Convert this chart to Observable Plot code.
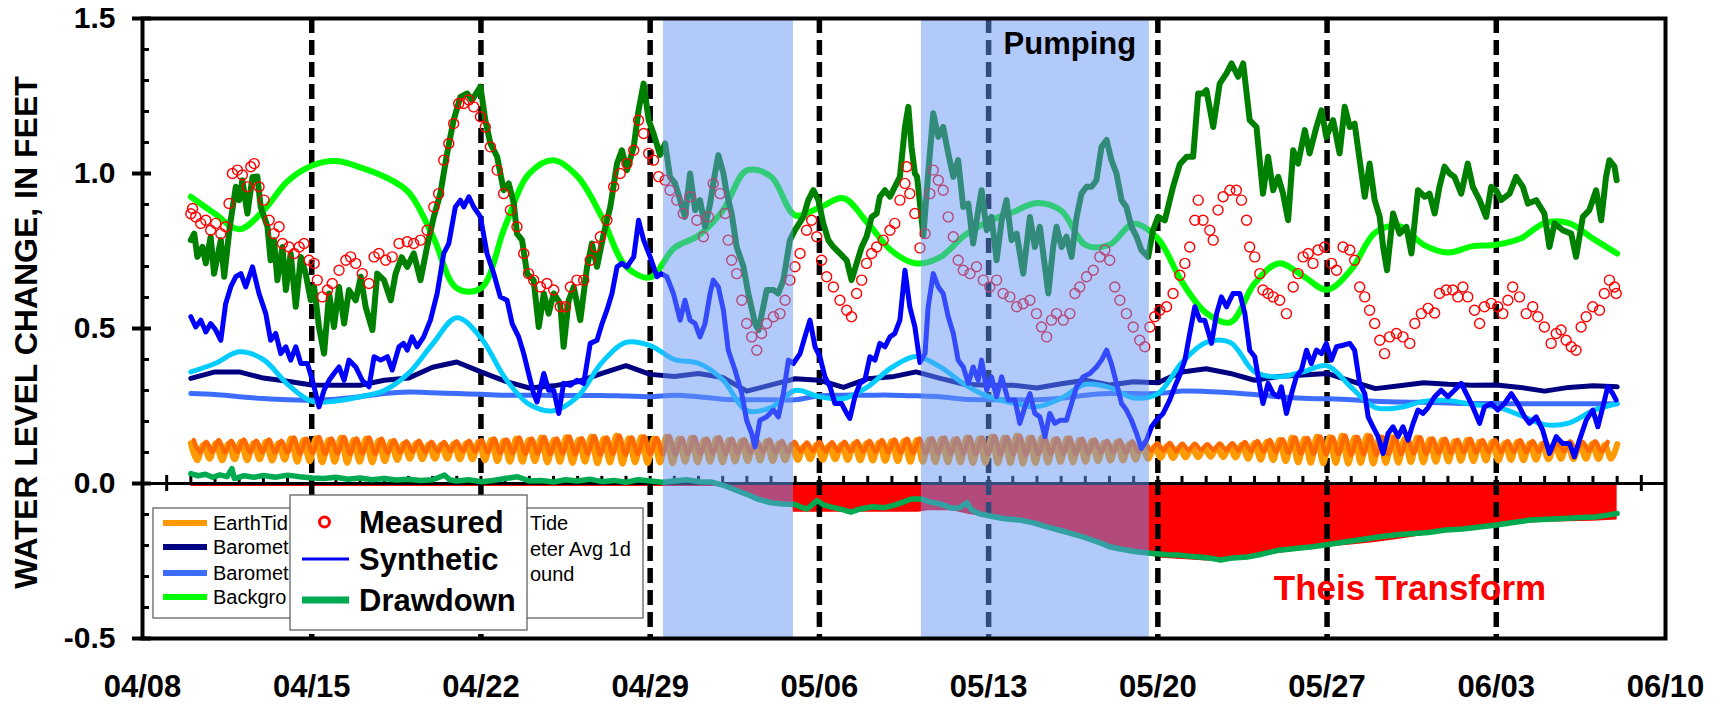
<!DOCTYPE html>
<html><head><meta charset="utf-8">
<script src="https://cdn.jsdelivr.net/npm/d3@7"></script>
<script src="https://cdn.jsdelivr.net/npm/@observablehq/plot@0.6"></script>
<style>
html,body{margin:0;padding:0;background:#fff;overflow:hidden;}
#wrap{position:relative;width:1721px;height:704px;}
#wrap svg{display:block}
#legend{position:absolute;left:0;top:0;pointer-events:none}
</style></head>
<body><div id="wrap"></div>
<script>
// ---------------- DATA ----------------
const xTickLabels = ["04/08","04/15","04/22","04/29","05/06","05/13","05/20","05/27","06/03","06/10"];
const dashedLabels = ["04/15","04/22","04/29","05/06","05/13","05/20","05/27","06/03"];
const yMajor = [-0.5, 0, 0.5, 1.0, 1.5];
const yMinor = [-0.4,-0.3,-0.2,-0.1,0.1,0.2,0.3,0.4,0.6,0.7,0.8,0.9,1.1,1.2,1.3,1.4];
const yTitle = "WATER LEVEL CHANGE, IN FEET";
// days since 04/08
const pumpingDays = [[21.55, 26.93], [32.22, 41.65]];
const smallTickDays = d3.range(2, 62);
const bigTickDays = [1, 62];

// daily smooth series, day 2 (04/10) .. day 61 (06/08)
const background = [0.925,0.87,0.82,0.88,0.975,1.025,1.04,1.02,0.99,0.94,0.80,0.63,0.63,0.83,1.00,1.043,0.99,0.86,0.70,0.665,0.76,0.80,0.88,1.01,0.99,0.865,0.89,0.92,0.84,0.75,0.71,0.73,0.80,0.845,0.875,0.905,0.88,0.77,0.77,0.838,0.79,0.65,0.55,0.52,0.645,0.71,0.67,0.625,0.69,0.81,0.83,0.77,0.745,0.765,0.77,0.79,0.84,0.84,0.79,0.742];
const baroAvg = [0.36,0.387,0.425,0.40,0.32,0.265,0.266,0.28,0.30,0.355,0.45,0.535,0.47,0.34,0.255,0.235,0.28,0.39,0.455,0.445,0.40,0.388,0.335,0.235,0.245,0.30,0.28,0.274,0.312,0.375,0.41,0.376,0.32,0.28,0.26,0.248,0.275,0.32,0.31,0.276,0.29,0.39,0.455,0.455,0.36,0.344,0.36,0.38,0.31,0.245,0.245,0.265,0.268,0.255,0.247,0.22,0.19,0.195,0.235,0.258];
const barometer = [0.339,0.36,0.36,0.34,0.33,0.318,0.317,0.317,0.333,0.34,0.375,0.392,0.36,0.33,0.308,0.315,0.328,0.355,0.38,0.352,0.345,0.355,0.342,0.298,0.318,0.338,0.333,0.31,0.338,0.344,0.36,0.339,0.32,0.317,0.317,0.308,0.322,0.333,0.318,0.328,0.325,0.36,0.37,0.355,0.333,0.345,0.35,0.355,0.33,0.306,0.315,0.325,0.32,0.317,0.318,0.31,0.298,0.31,0.315,0.312];
const baroFine = [0.29,0.287,0.28,0.274,0.27,0.269,0.272,0.28,0.29,0.295,0.293,0.29,0.288,0.285,0.285,0.284,0.284,0.284,0.282,0.28,0.285,0.28,0.272,0.27,0.27,0.27,0.283,0.285,0.285,0.285,0.283,0.28,0.272,0.27,0.27,0.27,0.275,0.285,0.29,0.29,0.29,0.298,0.297,0.293,0.287,0.28,0.275,0.273,0.27,0.265,0.263,0.262,0.26,0.258,0.258,0.257,0.257,0.257,0.257,0.257];

// tide series, one value every 0.2588 day
const tideStep = 0.2588;
const earthTideStart = 2.0, synthTideStart = 2.12;
const earthTide = [0.13,0.075,0.125,0.08,0.13,0.075,0.128,0.078,
0.135,0.075,0.13,0.078,0.135,0.074,0.13,0.077,
0.145,0.07,0.14,0.072,0.146,0.068,0.14,0.07,
0.148,0.067,0.14,0.07,0.145,0.068,0.138,0.072,
0.135,0.076,0.128,0.08,0.13,0.078,0.126,0.08,
0.125,0.08,0.128,0.078,0.13,0.078,0.135,0.075,
0.14,0.072,0.138,0.07,0.145,0.07,0.14,0.072,
0.148,0.068,0.14,0.07,0.15,0.066,0.142,0.07,
0.152,0.065,0.145,0.068,0.155,0.064,0.146,0.068,
0.15,0.066,0.145,0.068,0.152,0.065,0.145,0.07,
0.148,0.068,0.14,0.07,0.146,0.068,0.14,0.071,
0.138,0.072,0.132,0.074,0.136,0.072,0.13,0.075,
0.125,0.076,0.12,0.078,0.125,0.076,0.122,0.078,
0.125,0.076,0.128,0.075,0.13,0.074,0.132,0.073,
0.136,0.072,0.138,0.07,0.14,0.07,0.142,0.069,
0.145,0.068,0.142,0.068,0.148,0.066,0.145,0.067,
0.152,0.065,0.148,0.066,0.155,0.064,0.148,0.066,
0.148,0.067,0.142,0.069,0.146,0.068,0.14,0.07,
0.138,0.072,0.132,0.074,0.134,0.074,0.128,0.077,
0.122,0.08,0.118,0.083,0.12,0.082,0.116,0.084,
0.115,0.085,0.114,0.086,0.116,0.085,0.118,0.084,
0.125,0.08,0.13,0.077,0.135,0.075,0.14,0.072,
0.148,0.068,0.145,0.067,0.152,0.065,0.15,0.066,
0.155,0.064,0.148,0.066,0.155,0.064,0.15,0.066,
0.15,0.067,0.144,0.069,0.148,0.068,0.142,0.07,
0.14,0.071,0.136,0.073,0.14,0.072,0.135,0.074,
0.135,0.074,0.13,0.076,0.134,0.075,0.13,0.077,
0.128,0.078,0.124,0.08,0.128,0.079,0.125,0.08,
0.128,0.079,0.125,0.08,0.127];
const synthTide = [0.14,0.1,0.135,0.102,0.14,0.1,0.138,0.102,
0.142,0.1,0.138,0.1,0.142,0.099,0.138,0.1,
0.148,0.096,0.144,0.098,0.15,0.095,0.145,0.097,
0.15,0.095,0.145,0.097,0.148,0.095,0.144,0.098,
0.14,0.1,0.136,0.102,0.138,0.1,0.135,0.103,
0.134,0.104,0.136,0.103,0.138,0.102,0.14,0.1,
0.145,0.098,0.142,0.098,0.148,0.096,0.145,0.097,
0.15,0.095,0.145,0.097,0.152,0.094,0.146,0.096,
0.153,0.093,0.148,0.095,0.155,0.092,0.148,0.095,
0.152,0.094,0.147,0.095,0.153,0.093,0.147,0.096,
0.15,0.095,0.145,0.097,0.149,0.095,0.144,0.098,
0.143,0.098,0.14,0.1,0.142,0.099,0.138,0.101,
0.135,0.103,0.132,0.104,0.135,0.103,0.133,0.104,
0.135,0.103,0.137,0.102,0.138,0.101,0.14,0.1,
0.142,0.099,0.144,0.098,0.145,0.097,0.146,0.097,
0.148,0.095,0.146,0.096,0.15,0.094,0.148,0.095,
0.153,0.093,0.15,0.094,0.155,0.092,0.15,0.094,
0.15,0.095,0.146,0.096,0.148,0.095,0.144,0.097,
0.142,0.099,0.138,0.1,0.14,0.1,0.136,0.102,
0.132,0.105,0.13,0.106,0.131,0.105,0.128,0.107,
0.128,0.108,0.127,0.108,0.129,0.107,0.13,0.106,
0.134,0.104,0.137,0.102,0.14,0.1,0.143,0.099,
0.148,0.096,0.147,0.096,0.152,0.094,0.15,0.095,
0.155,0.092,0.15,0.094,0.155,0.092,0.15,0.095,
0.15,0.095,0.146,0.097,0.149,0.096,0.145,0.098,
0.144,0.098,0.141,0.1,0.144,0.099,0.14,0.101,
0.14,0.1,0.137,0.102,0.14,0.101,0.137,0.103,
0.136,0.103,0.133,0.104,0.136,0.104,0.134,0.105,
0.136,0.104,0.134];

// [day, value]
const residual = [[2.0,0.785],[2.14,0.806],[2.27,0.731],[2.48,0.763],[2.62,0.71],[2.82,0.796],[2.96,0.677],[3.24,0.785],[3.38,0.667],[3.61,0.828],[3.86,0.957],[4.0,0.914],[4.13,0.978],[4.34,0.871],[4.55,0.989],[4.75,0.99],[4.89,0.892],[5.17,0.828],[5.3,0.72],[5.44,0.785],[5.58,0.656],[5.79,0.763],[5.93,0.624],[6.13,0.742],[6.34,0.57],[6.55,0.731],[6.75,0.677],[6.96,0.591],[7.1,0.634],[7.3,0.505],[7.51,0.419],[7.72,0.613],[7.92,0.505],[8.13,0.634],[8.34,0.516],[8.54,0.624],[8.82,0.591],[9.03,0.667],[9.23,0.57],[9.51,0.495],[9.71,0.677],[9.99,0.656],[10.27,0.591],[10.47,0.677],[10.72,0.73],[10.95,0.699],[11.22,0.742],[11.5,0.656],[11.77,0.763],[12.05,0.86],[12.32,0.935],[12.6,1.065],[12.87,1.172],[13.15,1.247],[13.43,1.258],[13.63,1.237],[13.98,1.28],[14.18,1.172],[14.39,1.097],[14.67,1.054],[14.94,0.946],[15.15,0.968],[15.36,0.903],[15.49,0.806],[15.7,0.785],[15.91,0.677],[16.18,0.656],[16.39,0.505],[16.6,0.613],[16.8,0.548],[17.01,0.613],[17.28,0.58],[17.42,0.441],[17.63,0.591],[17.84,0.634],[18.11,0.527],[18.39,0.699],[18.59,0.774],[18.8,0.699],[19.08,0.806],[19.35,0.892],[19.63,1.032],[19.83,1.075],[20.04,1.011],[20.32,1.086],[20.52,1.204],[20.73,1.29],[20.94,1.172],[21.14,1.129],[21.41,1.06],[21.62,1.097],[21.82,0.989],[22.03,0.968],[22.24,0.914],[22.44,0.86],[22.65,1.0],[22.86,0.882],[23.06,0.914],[23.27,0.828],[23.48,0.903],[23.68,1.0],[23.82,1.059],[24.03,1.0],[24.17,0.935],[24.37,0.871],[24.58,0.763],[24.86,0.699],[25.06,0.613],[25.34,0.516],[25.48,0.495],[25.68,0.57],[25.82,0.624],[26.1,0.624],[26.3,0.613],[26.51,0.656],[26.78,0.785],[26.99,0.817],[27.34,0.86],[27.54,0.914],[27.75,0.946],[27.96,0.914],[28.16,0.839],[28.37,0.785],[28.58,0.763],[28.85,0.742],[29.13,0.72],[29.33,0.656],[29.54,0.71],[29.75,0.763],[29.95,0.796],[30.16,0.86],[30.37,0.871],[30.5,0.925],[30.71,0.946],[30.92,0.925],[31.12,0.957],[31.33,0.989],[31.54,1.15],[31.68,1.215],[31.81,1.086],[31.95,1.0],[32.04,0.99],[32.3,0.80],[32.5,1.0],[32.71,1.194],[32.92,1.118],[33.12,1.15],[33.33,1.065],[33.54,0.989],[33.74,1.043],[33.95,0.892],[34.16,0.903],[34.36,0.774],[34.57,0.882],[34.71,0.946],[34.92,0.817],[35.12,0.86],[35.33,0.72],[35.54,0.849],[35.74,0.914],[35.95,0.785],[36.16,0.806],[36.43,0.677],[36.71,0.86],[36.91,0.763],[37.12,0.828],[37.47,0.613],[37.67,0.763],[37.81,0.828],[38.02,0.763],[38.22,0.796],[38.43,0.731],[38.64,0.86],[38.84,0.935],[39.05,0.957],[39.26,0.957],[39.46,0.978],[39.67,1.086],[39.88,1.108],[40.08,1.043],[40.29,1.0],[40.5,0.914],[40.7,0.892],[40.91,0.828],[41.12,0.796],[41.32,0.753],[41.6,0.731],[41.8,0.817],[42.01,0.86],[42.29,0.849],[42.63,0.957],[42.91,1.03],[43.19,1.054],[43.46,1.054],[43.67,1.258],[43.87,1.258],[44.01,1.269],[44.29,1.15],[44.56,1.29],[44.84,1.323],[45.05,1.355],[45.32,1.312],[45.53,1.355],[45.8,1.172],[46.08,1.15],[46.35,0.935],[46.56,1.054],[46.77,0.946],[46.98,0.989],[47.18,0.935],[47.39,0.849],[47.6,1.075],[47.8,1.032],[48.08,1.14],[48.28,1.065],[48.56,1.15],[48.77,1.204],[48.97,1.118],[49.25,1.172],[49.52,1.065],[49.73,1.215],[49.94,1.15],[50.14,1.161],[50.35,1.043],[50.56,0.925],[50.76,1.032],[50.97,0.914],[51.18,0.86],[51.32,0.763],[51.48,0.688],[51.73,0.871],[52.0,0.806],[52.28,0.828],[52.49,0.742],[52.76,0.946],[53.04,0.925],[53.24,0.935],[53.45,0.871],[53.65,0.957],[53.86,1.022],[54.07,1.0],[54.27,0.989],[54.55,0.935],[54.82,1.032],[55.03,0.957],[55.31,0.914],[55.58,0.86],[55.79,0.957],[55.99,0.946],[56.2,0.914],[56.55,0.935],[56.82,0.989],[57.1,0.957],[57.31,0.903],[57.65,0.914],[57.99,0.871],[58.2,0.763],[58.41,0.839],[58.75,0.817],[59.1,0.806],[59.3,0.731],[59.58,0.86],[59.85,0.882],[60.13,0.946],[60.34,0.849],[60.54,0.989],[60.68,1.043],[60.89,1.022],[60.98,0.978]];

const synthetic = [[2.0,0.538],[2.2,0.505],[2.41,0.527],[2.62,0.489],[2.82,0.516],[3.03,0.495],[3.24,0.462],[3.44,0.58],[3.65,0.634],[3.86,0.667],[4.07,0.677],[4.27,0.634],[4.55,0.699],[4.82,0.613],[5.1,0.548],[5.3,0.462],[5.51,0.484],[5.72,0.419],[5.93,0.441],[6.13,0.398],[6.34,0.441],[6.55,0.387],[6.82,0.387],[7.03,0.333],[7.3,0.247],[7.51,0.301],[7.72,0.333],[7.92,0.355],[8.13,0.376],[8.34,0.333],[8.54,0.398],[8.82,0.376],[9.09,0.333],[9.37,0.312],[9.58,0.409],[9.85,0.398],[10.13,0.409],[10.33,0.366],[10.61,0.441],[10.8,0.452],[10.95,0.43],[11.15,0.473],[11.36,0.441],[11.63,0.473],[11.91,0.527],[12.19,0.613],[12.46,0.742],[12.67,0.774],[12.94,0.892],[13.15,0.914],[13.29,0.892],[13.5,0.925],[13.7,0.892],[13.98,0.86],[14.25,0.742],[14.53,0.677],[14.8,0.602],[15.08,0.591],[15.29,0.516],[15.56,0.473],[15.77,0.419],[15.97,0.355],[16.18,0.29],[16.32,0.263],[16.6,0.355],[16.8,0.301],[17.01,0.301],[17.22,0.226],[17.42,0.323],[17.7,0.317],[17.97,0.333],[18.25,0.323],[18.52,0.452],[18.8,0.462],[19.01,0.516],[19.21,0.559],[19.42,0.613],[19.63,0.699],[19.83,0.71],[20.04,0.699],[20.32,0.731],[20.52,0.849],[20.73,0.785],[21.0,0.731],[21.28,0.667],[21.45,0.677],[21.69,0.667],[21.96,0.613],[22.24,0.527],[22.44,0.591],[22.65,0.527],[22.86,0.516],[23.06,0.473],[23.27,0.516],[23.48,0.613],[23.61,0.656],[23.82,0.634],[24.03,0.559],[24.23,0.43],[24.51,0.366],[24.79,0.29],[24.99,0.204],[25.2,0.161],[25.34,0.118],[25.54,0.204],[25.82,0.215],[26.1,0.237],[26.3,0.215],[26.51,0.29],[26.72,0.398],[26.92,0.387],[27.2,0.419],[27.4,0.473],[27.61,0.527],[27.82,0.441],[28.02,0.409],[28.23,0.344],[28.44,0.312],[28.64,0.258],[28.92,0.258],[29.13,0.226],[29.26,0.21],[29.47,0.28],[29.68,0.323],[29.88,0.333],[30.09,0.409],[30.3,0.398],[30.5,0.452],[30.71,0.441],[30.92,0.473],[31.12,0.484],[31.33,0.527],[31.54,0.688],[31.74,0.57],[31.95,0.505],[32.16,0.39],[32.37,0.419],[32.5,0.57],[32.71,0.677],[32.92,0.634],[33.12,0.613],[33.33,0.538],[33.54,0.484],[33.74,0.398],[33.95,0.376],[34.16,0.323],[34.36,0.376],[34.57,0.333],[34.71,0.398],[34.92,0.301],[35.12,0.344],[35.33,0.28],[35.54,0.344],[35.81,0.269],[36.09,0.269],[36.29,0.194],[36.5,0.247],[36.71,0.29],[36.91,0.226],[37.12,0.215],[37.33,0.151],[37.53,0.226],[37.74,0.194],[37.95,0.204],[38.22,0.204],[38.43,0.258],[38.64,0.312],[38.91,0.344],[39.19,0.355],[39.46,0.376],[39.67,0.398],[39.88,0.43],[40.08,0.387],[40.29,0.323],[40.5,0.258],[40.7,0.237],[40.91,0.204],[41.12,0.161],[41.32,0.113],[41.53,0.14],[41.74,0.183],[41.94,0.204],[42.22,0.226],[42.49,0.269],[42.7,0.312],[42.91,0.35],[43.12,0.398],[43.32,0.484],[43.53,0.57],[43.74,0.527],[43.94,0.527],[44.22,0.452],[44.43,0.548],[44.63,0.602],[44.84,0.57],[45.11,0.613],[45.39,0.613],[45.6,0.548],[45.8,0.43],[46.01,0.409],[46.22,0.312],[46.35,0.258],[46.56,0.323],[46.77,0.29],[46.98,0.28],[47.11,0.312],[47.32,0.226],[47.53,0.29],[47.73,0.344],[47.94,0.366],[48.15,0.43],[48.35,0.387],[48.56,0.43],[48.77,0.419],[48.97,0.452],[49.18,0.398],[49.39,0.441],[49.66,0.446],[49.94,0.452],[50.14,0.43],[50.35,0.323],[50.56,0.29],[50.7,0.215],[50.9,0.183],[51.11,0.151],[51.32,0.097],[51.52,0.161],[51.73,0.183],[51.94,0.151],[52.14,0.183],[52.35,0.14],[52.56,0.194],[52.76,0.237],[52.97,0.226],[53.18,0.245],[53.45,0.28],[53.72,0.301],[54.0,0.28],[54.27,0.301],[54.55,0.323],[54.76,0.29],[55.03,0.247],[55.31,0.194],[55.51,0.247],[55.79,0.258],[56.06,0.237],[56.34,0.258],[56.62,0.29],[56.89,0.258],[57.17,0.215],[57.37,0.194],[57.65,0.215],[57.92,0.172],[58.2,0.097],[58.48,0.151],[58.75,0.129],[59.03,0.129],[59.23,0.086],[59.44,0.14],[59.72,0.204],[59.99,0.237],[60.2,0.183],[60.41,0.247],[60.61,0.312],[60.82,0.29],[60.96,0.269]];

const measured = [[2.0,0.87],[2.07,0.887],[2.2,0.86],[2.41,0.839],[2.62,0.849],[2.82,0.817],[3.03,0.839],[3.24,0.806],[3.44,0.828],[3.58,0.903],[3.72,1.0],[3.93,1.011],[4.13,0.995],[4.34,0.957],[4.48,1.022],[4.62,1.032],[4.82,0.957],[5.03,0.914],[5.24,0.849],[5.44,0.806],[5.65,0.828],[5.79,0.774],[6.06,0.763],[6.27,0.742],[6.48,0.763],[6.68,0.774],[6.89,0.72],[7.1,0.71],[7.23,0.656],[7.44,0.602],[7.65,0.624],[7.85,0.645],[8.13,0.688],[8.41,0.72],[8.61,0.731],[8.82,0.71],[9.09,0.677],[9.37,0.645],[9.58,0.731],[9.78,0.742],[10.06,0.72],[10.33,0.731],[10.61,0.774],[10.95,0.78],[11.22,0.774],[11.5,0.785],[11.77,0.817],[12.05,0.892],[12.25,0.935],[12.46,1.043],[12.67,1.097],[12.87,1.161],[13.08,1.226],[13.29,1.226],[13.5,1.237],[13.7,1.215],[13.98,1.183],[14.18,1.15],[14.39,1.086],[14.67,1.011],[14.94,0.935],[15.22,0.882],[15.49,0.828],[15.77,0.742],[15.97,0.677],[16.18,0.656],[16.46,0.634],[16.73,0.645],[17.01,0.624],[17.28,0.57],[17.49,0.57],[17.7,0.634],[17.97,0.656],[18.25,0.656],[18.52,0.72],[18.73,0.763],[18.94,0.796],[19.21,0.849],[19.49,0.957],[19.76,1.0],[20.04,1.032],[20.32,1.075],[20.52,1.172],[20.73,1.129],[20.94,1.065],[21.14,1.043],[21.35,0.99],[21.62,0.978],[21.82,0.946],[22.1,0.914],[22.37,0.871],[22.65,0.925],[22.93,0.849],[23.2,0.796],[23.41,0.86],[23.61,0.968],[23.89,0.935],[24.1,0.871],[24.23,0.785],[24.37,0.72],[24.58,0.677],[24.79,0.591],[24.99,0.516],[25.2,0.473],[25.41,0.43],[25.61,0.484],[25.82,0.516],[26.1,0.538],[26.37,0.548],[26.58,0.591],[26.78,0.656],[26.99,0.699],[27.2,0.742],[27.47,0.817],[27.68,0.849],[27.89,0.796],[28.09,0.72],[28.3,0.667],[28.58,0.634],[28.85,0.591],[29.13,0.559],[29.33,0.538],[29.54,0.613],[29.75,0.656],[29.95,0.71],[30.16,0.742],[30.37,0.763],[30.64,0.785],[30.92,0.817],[31.12,0.839],[31.33,0.914],[31.54,0.968],[31.61,1.022],[31.74,0.935],[31.95,0.871],[32.16,0.76],[32.37,0.806],[32.57,0.935],[32.71,1.011],[32.92,0.978],[33.12,0.946],[33.33,0.86],[33.54,0.796],[33.74,0.72],[33.95,0.688],[34.23,0.677],[34.5,0.699],[34.78,0.656],[35.05,0.634],[35.33,0.656],[35.6,0.613],[35.88,0.602],[36.16,0.57],[36.43,0.58],[36.71,0.591],[36.98,0.548],[37.19,0.505],[37.4,0.473],[37.6,0.527],[37.81,0.548],[38.09,0.527],[38.36,0.548],[38.57,0.613],[38.77,0.634],[39.05,0.667],[39.33,0.688],[39.6,0.731],[39.81,0.753],[40.01,0.72],[40.22,0.634],[40.43,0.591],[40.7,0.548],[40.98,0.505],[41.25,0.462],[41.46,0.441],[41.67,0.505],[41.87,0.538],[42.08,0.559],[42.36,0.57],[42.63,0.613],[42.91,0.672],[43.12,0.71],[43.32,0.763],[43.53,0.849],[43.67,0.914],[43.87,0.849],[44.15,0.817],[44.29,0.785],[44.49,0.882],[44.7,0.925],[44.98,0.946],[45.25,0.946],[45.46,0.914],[45.67,0.849],[45.8,0.763],[46.01,0.731],[46.22,0.677],[46.35,0.624],[46.56,0.613],[46.77,0.602],[47.04,0.591],[47.32,0.548],[47.6,0.634],[47.8,0.677],[48.01,0.731],[48.22,0.742],[48.42,0.71],[48.63,0.753],[48.9,0.763],[49.18,0.71],[49.39,0.688],[49.66,0.763],[49.94,0.753],[50.14,0.72],[50.35,0.634],[50.56,0.602],[50.76,0.559],[50.97,0.516],[51.18,0.462],[51.38,0.419],[51.59,0.473],[51.87,0.484],[52.14,0.473],[52.42,0.452],[52.63,0.516],[52.9,0.548],[53.18,0.565],[53.45,0.55],[53.65,0.613],[53.93,0.624],[54.2,0.624],[54.41,0.602],[54.62,0.634],[54.82,0.602],[55.1,0.559],[55.31,0.516],[55.51,0.57],[55.79,0.581],[56.06,0.57],[56.27,0.548],[56.48,0.591],[56.68,0.634],[56.96,0.602],[57.24,0.548],[57.51,0.57],[57.72,0.538],[57.99,0.505],[58.27,0.452],[58.48,0.484],[58.68,0.495],[58.89,0.462],[59.1,0.441],[59.3,0.43],[59.51,0.505],[59.72,0.538],[59.99,0.57],[60.27,0.559],[60.47,0.613],[60.68,0.656],[60.89,0.634],[60.96,0.613]];

const drawdown = [[2.0,0.032],[2.3,0.025],[2.6,0.03],[2.9,0.02],[3.2,0.028],[3.5,0.022],[3.7,0.048],[3.8,0.016],[4.2,0.025],[4.6,0.02],[5.0,0.026],[5.5,0.02],[6.0,0.027],[6.5,0.022],[7.0,0.018],[7.5,0.016],[8.0,0.02],[8.5,0.014],[9.0,0.018],[9.5,0.012],[10.0,0.016],[10.5,0.011],[11.0,0.014],[11.5,0.01],[12.0,0.012],[12.5,0.027],[12.7,0.012],[13.0,0.008],[13.5,0.012],[14.0,0.006],[14.5,0.01],[15.0,0.016],[15.5,0.022],[16.0,0.008],[16.5,0.01],[17.0,0.005],[17.5,0.012],[18.0,0.008],[18.5,0.014],[19.0,0.006],[19.5,0.01],[20.0,0.004],[20.5,0.012],[21.0,0.008],[21.5,0.004],[22.0,0.008],[22.5,0.012],[23.0,0.006],[23.5,0.005],[24.0,-0.005],[24.5,-0.02],[25.0,-0.035],[25.5,-0.052],[26.0,-0.062],[26.5,-0.066],[27.0,-0.068],[27.3,-0.078],[27.5,-0.082],[27.9,-0.055],[28.2,-0.07],[28.5,-0.076],[29.0,-0.085],[29.3,-0.092],[29.7,-0.082],[30.2,-0.075],[30.7,-0.078],[31.1,-0.07],[31.5,-0.059],[31.8,-0.05],[32.2,-0.05],[32.6,-0.06],[33.0,-0.066],[33.5,-0.08],[33.8,-0.078],[34.1,-0.062],[34.3,-0.085],[34.6,-0.097],[35.0,-0.104],[35.6,-0.113],[36.3,-0.118],[36.9,-0.128],[37.4,-0.14],[37.9,-0.15],[38.4,-0.161],[38.9,-0.172],[39.3,-0.183],[39.7,-0.194],[40.0,-0.204],[40.5,-0.212],[41.1,-0.22],[41.8,-0.226],[42.4,-0.23],[42.9,-0.231],[43.3,-0.235],[43.7,-0.237],[44.1,-0.24],[44.6,-0.247],[45.1,-0.24],[45.7,-0.237],[46.3,-0.228],[47.0,-0.215],[47.7,-0.21],[48.4,-0.204],[49.1,-0.196],[49.8,-0.188],[50.5,-0.18],[51.2,-0.172],[51.9,-0.165],[52.6,-0.161],[53.2,-0.158],[53.9,-0.15],[54.6,-0.147],[55.3,-0.14],[56.0,-0.134],[56.7,-0.126],[57.4,-0.118],[58.1,-0.115],[58.8,-0.113],[59.5,-0.11],[60.1,-0.108],[60.6,-0.102],[61.0,-0.097]];

const theis = [[2.0,-0.01],[23.8,-0.01],[24.2,-0.012],[24.6,-0.025],[25.0,-0.04],[25.5,-0.055],[26.0,-0.064],[26.5,-0.068],[26.9,-0.072],[26.92,-0.093],[32.1,-0.093],[32.5,-0.088],[33.5,-0.088],[34.2,-0.1],[35.0,-0.11],[36.0,-0.12],[37.0,-0.135],[38.0,-0.152],[39.0,-0.172],[40.0,-0.2],[41.0,-0.22],[41.7,-0.232],[42.0,-0.24],[43.0,-0.245],[44.0,-0.25],[45.0,-0.248],[46.0,-0.238],[47.0,-0.226],[48.0,-0.215],[49.0,-0.205],[50.0,-0.198],[51.0,-0.19],[52.0,-0.18],[53.0,-0.168],[54.0,-0.155],[55.0,-0.145],[56.0,-0.14],[57.0,-0.13],[58.0,-0.125],[59.0,-0.123],[60.0,-0.122],[61.0,-0.118]];

const annotations = [
  {label: "Pumping", day: 35.62, v: 1.416, color: "black", size: 31, anchor: "start"},
  {label: "Theis Transform", day: 52.43, v: -0.339, color: "#ff0000", size: 35, anchor: "middle"}
];
// back legend: only the visible (uncovered) parts of its labels show in the reference
const legendBackCol1 = [["EarthTid", "#ff9900"], ["Baromet", "#000080"], ["Baromet", "#3d6dff"], ["Backgro", "#00ff00"]];
const legendBackCol2 = ["Tide", "eter Avg 1d", "ound"];
const legendFront = ["Measured", "Synthetic", "Drawdown"];

// ---------------- BUILD ----------------
const t0 = Date.UTC(2010, 3, 8);
const D = d => new Date(t0 + d * 864e5);
const parseMD = s => { const [m, d] = s.split("/").map(Number); return new Date(Date.UTC(2010, m - 1, d)); };
const pairs = arr => arr.map(([d, v]) => ({t: D(d), v}));
const daily = vals => vals.map((v, i) => ({t: D(2 + i), v}));
const tide = (vals, start) => vals.map((v, i) => ({t: D(start + i * tideStep), v}));
const pumping = pumpingDays.map(([a, b]) => ({s: D(a), e: D(b)}));

const FONT = "'Liberation Sans', Arial, Helvetica, sans-serif";
const chart = Plot.plot({
  width: 1721, height: 704,
  marginLeft: 142, marginRight: 56, marginTop: 18, marginBottom: 66,
  style: {fontFamily: FONT, background: "white", color: "black"},
  x: {type: "utc", domain: [D(0), D(63)]},
  y: {domain: [-0.5, 1.5]},
  marks: [
    Plot.areaY(pairs(theis), {x: "t", y1: 0, y2: "v", fill: "#ff0000"}),
    Plot.ruleX(dashedLabels.map(parseMD), {stroke: "black", strokeWidth: 5.5, strokeDasharray: "15,7"}),
    Plot.ruleY([0], {stroke: "black", strokeWidth: 3}),
    Plot.ruleX(smallTickDays.map(D), {y1: 0, y2: 0.023, stroke: "black", strokeWidth: 3}),
    Plot.ruleX(bigTickDays.map(D), {y1: -0.026, y2: 0.026, stroke: "black", strokeWidth: 3}),
    Plot.line(tide(earthTide, earthTideStart), {x: "t", y: "v", stroke: "#ff9900", strokeWidth: 6, curve: "catmull-rom"}),
    Plot.line(tide(synthTide, synthTideStart), {x: "t", y: "v", stroke: "#ff6a00", strokeWidth: 4.5, curve: "catmull-rom"}),
    Plot.line(daily(baroFine), {x: "t", y: "v", stroke: "#3d6dff", strokeWidth: 5, curve: "catmull-rom"}),
    Plot.line(daily(barometer), {x: "t", y: "v", stroke: "#000080", strokeWidth: 5}),
    Plot.line(daily(baroAvg), {x: "t", y: "v", stroke: "#00ccff", strokeWidth: 5, curve: "catmull-rom"}),
    Plot.line(daily(background), {x: "t", y: "v", stroke: "#00ff00", strokeWidth: 6, curve: "catmull-rom"}),
    Plot.line(pairs(residual), {x: "t", y: "v", stroke: "#008000", strokeWidth: 6, strokeLinejoin: "round"}),
    Plot.line(pairs(synthetic), {x: "t", y: "v", stroke: "#0000ff", strokeWidth: 5, strokeLinejoin: "round"}),
    Plot.dot(pairs(measured), {x: "t", y: "v", r: 5, stroke: "#ff0000", strokeWidth: 1.4, fill: "none"}),
    Plot.line(pairs(drawdown), {x: "t", y: "v", stroke: "#00aa50", strokeWidth: 5.5}),
    Plot.rect(pumping, {x1: "s", x2: "e", y1: -0.5, y2: 1.5, fill: "#6595f5", fillOpacity: 0.5}),
    Plot.frame({stroke: "black", strokeWidth: 4}),
    Plot.axisY({ticks: yMajor, tickSize: 10, tickPadding: 17, tickFormat: d => d.toFixed(1), fontSize: 30, fontWeight: "bold", strokeWidth: 4, label: null}),
    Plot.axisY({ticks: yMajor, tickSize: -9, tickFormat: () => "", strokeWidth: 4, label: null}),
    Plot.axisY({ticks: yMinor, tickSize: -7, tickFormat: () => "", strokeWidth: 3, label: null}),
    Plot.axisX({ticks: xTickLabels.map(parseMD), tickSize: 0, tickPadding: 36, tickFormat: d3.utcFormat("%m/%d"), fontSize: 31, fontWeight: "bold", label: null}),
    Plot.text([{s: yTitle, v: 0.487}], {text: "s", y: "v", frameAnchor: "left", textAnchor: "middle", lineAnchor: "middle", dx: -116, rotate: -90, fontSize: 32, fontWeight: "bold", fill: "black"}),
    Plot.text(annotations.filter(d => d.anchor === "start"), {x: d => D(d.day), y: "v", text: "label", fill: "black", fontSize: 31, textAnchor: "start", fontWeight: "bold"}),
    Plot.text(annotations.filter(d => d.anchor === "middle"), {x: d => D(d.day), y: "v", text: "label", fill: "#ff0000", fontSize: 35, textAnchor: "middle", fontWeight: "bold"})
  ]
});
const wrap = document.getElementById("wrap");
wrap.appendChild(chart);

// legend overlay (two overlapping boxes)
const ns = "http://www.w3.org/2000/svg";
let s = `<svg id="legend" xmlns="${ns}" width="1721" height="704" style="font-family:Liberation Sans, Arial, sans-serif">`;
s += `<rect x="153" y="508" width="490" height="110" fill="white" stroke="#555" stroke-width="1.2"/>`;
const c1y = [523, 547, 573, 597];
legendBackCol1.forEach(([lab, col], i) => {
  s += `<line x1="163" x2="207" y1="${c1y[i]}" y2="${c1y[i]}" stroke="${col}" stroke-width="6"/>`;
  s += `<text x="213" y="${c1y[i]}" dy="0.35em" font-size="20" fill="black">${lab}</text>`;
});
const c2y = [523, 549, 574];
legendBackCol2.forEach((lab, i) => {
  s += `<text x="530" y="${c2y[i]}" dy="0.35em" font-size="20" fill="black">${lab}</text>`;
});
s += `<rect x="290" y="495" width="237" height="135" fill="white" stroke="#555" stroke-width="1.2"/>`;
const fy = [522, 559, 600];
s += `<circle cx="324.5" cy="${fy[0]}" r="5" fill="none" stroke="#ff0000" stroke-width="3"/>`;
s += `<line x1="302" x2="349" y1="${fy[1]}" y2="${fy[1]}" stroke="#0000ff" stroke-width="3"/>`;
s += `<line x1="302" x2="349" y1="${fy[2]}" y2="${fy[2]}" stroke="#00aa50" stroke-width="7"/>`;
legendFront.forEach((lab, i) => {
  s += `<text x="359" y="${fy[i]}" dy="0.36em" font-size="31" font-weight="bold" fill="black">${lab}</text>`;
});
s += `</svg>`;
wrap.insertAdjacentHTML("beforeend", s);
</script></body></html>
